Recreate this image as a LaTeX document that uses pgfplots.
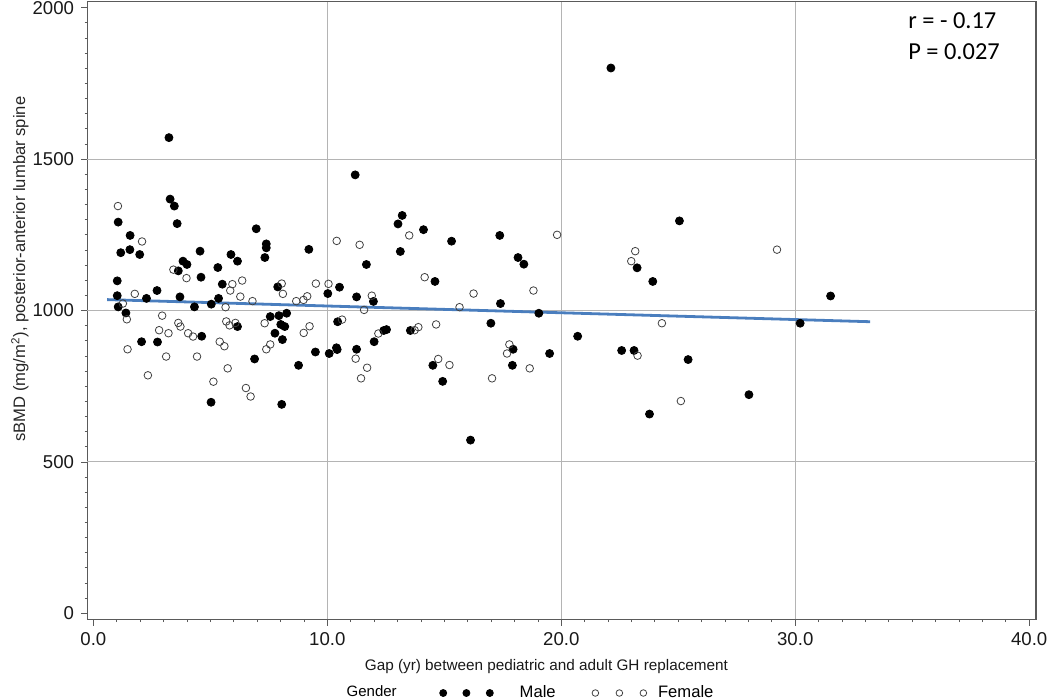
\documentclass[border=0pt]{standalone}
\usepackage{pgfplots}
\pgfplotsset{compat=1.18}
\usepackage{fontspec}
\setmainfont{Liberation Sans}
\newfontfamily\calibri{Carlito}
\definecolor{regblue}{RGB}{74,126,190}
\definecolor{gridgray}{RGB}{180,180,180}
\definecolor{axgray}{RGB}{90,90,90}

\pgfplotsset{
  maledots/.style={legend image code/.code={\draw[##1, mark size=1.75pt] plot coordinates {(0pt,0pt) (11.6pt,0pt) (23.3pt,0pt)};}},
  femaledots/.style={legend image code/.code={\draw[##1, mark size=1.65pt] plot coordinates {(0pt,0pt) (12pt,0pt) (24pt,0pt)};}},
}

\pgfplotstableread{
x y
3.23 1571
3.28 1368
3.46 1345
3.58 1287
1.06 1292
1.57 1248
1.17 1191
1.56 1201
1.98 1185
6.96 1270
7.39 1220
7.39 1207
7.33 1175
4.56 1196
5.88 1185
6.16 1163
3.83 1163
4.00 1152
3.63 1131
5.32 1142
4.60 1110
9.21 1202
1.02 1098
5.51 1087
7.88 1078
2.72 1066
1.02 1049
2.27 1040
3.70 1045
5.35 1040
1.06 1012
4.32 1012
5.04 1021
1.39 992
7.56 980
7.93 983
8.26 991
8.01 954
8.18 947
6.16 947
7.76 925
4.63 915
8.08 904
2.06 897
2.74 896
9.49 863
6.89 840
8.77 819
5.03 697
8.05 690
11.19 1448
13.20 1314
13.02 1286
14.11 1267
15.31 1229
17.37 1248
13.12 1195
11.67 1152
18.15 1175
18.40 1153
14.60 1096
10.52 1077
10.02 1056
11.25 1045
11.97 1030
17.40 1023
19.04 991
10.44 963
16.99 958
12.41 934
12.53 937
13.55 934
12.00 897
10.08 858
10.39 877
10.42 871
11.25 872
17.94 872
19.50 858
14.51 819
17.91 819
14.93 766
16.12 572
20.70 915
25.05 1296
23.24 1141
23.91 1096
31.51 1048
30.21 958
22.58 868
23.11 868
25.42 838
28.02 722
23.77 658
22.12 1801
}\male

\pgfplotstableread{
x y
1.05 1345
2.08 1228
3.42 1135
3.98 1107
6.36 1099
5.94 1087
5.85 1066
1.77 1055
6.28 1046
8.05 1089
8.10 1055
9.51 1089
6.80 1031
8.67 1031
8.98 1035
9.14 1047
1.26 1023
5.65 1011
1.43 971
2.94 983
3.63 959
3.72 947
5.68 964
5.82 951
6.07 959
7.32 958
2.81 935
3.21 925
4.05 925
4.26 914
8.99 926
9.24 948
5.40 897
5.60 882
7.56 888
7.39 872
1.46 872
3.11 848
4.43 848
5.74 809
2.33 786
5.13 765
6.52 744
6.72 716
10.40 1230
11.38 1217
13.50 1248
19.82 1250
14.16 1110
10.05 1088
11.90 1049
11.57 1002
16.25 1056
18.81 1066
15.65 1011
10.63 970
12.18 924
13.73 935
13.89 945
14.65 954
11.21 841
11.70 811
11.44 776
14.74 840
15.22 820
17.78 888
17.68 858
17.04 776
18.65 809
23.16 1196
22.99 1163
29.22 1201
24.30 958
23.26 851
25.11 701
}\female

\begin{document}
\begin{tikzpicture}
\begin{axis}[
  name=ax,
  scale only axis,
  width=474.35pt, height=308.9pt,
  xmin=-0.26, xmax=40.29,
  ymin=-20.5, ymax=2020,
  xtick={0,10,20,30,40},
  ytick={0,500,1000,1500,2000},
  minor x tick num=9,
  minor y tick num=9,
  tick align=outside,
  tick pos=left,
  major tick length=3.1pt,
  minor tick length=1.3pt,
  every tick/.style={axgray, line width=0.4pt},
  axis line style={axgray, line width=0.6pt},
  extra x ticks={10,20,30},
  extra y ticks={500,1000,1500},
  extra x tick labels={,,},
  extra y tick labels={,,},
  extra tick style={grid=major, major tick length=0pt},
  major grid style={gridgray, line width=0.55pt},
  /pgf/number format/assume math mode=true,
  xticklabel style={/pgf/number format/.cd, fixed, fixed zerofill, precision=1},
  yticklabel style={/pgf/number format/.cd, fixed, precision=0, 1000 sep={}},
  ticklabel style={font=\fontsize{9.3}{11}\selectfont, text=black!90},
  xlabel={Gap (yr) between pediatric and adult GH replacement},
  ylabel={sBMD (mg/m\textsuperscript{2}), posterior-anterior lumbar spine},
  every axis x label/.style={at={(axis description cs:0.484,-0.0764)}, anchor=center, font=\fontsize{7.65}{9}\selectfont, text=black!90},
  every axis y label/.style={at={(axis description cs:-0.071,0.567)}, anchor=center, rotate=90, font=\fontsize{8.3}{10}\selectfont, text=black!85},
  legend columns=-1,
  legend style={draw=none, fill=none, inner sep=0pt, outer sep=0pt,
    at={(axis description cs:0.2734,-0.119)}, anchor=west,
    nodes={inner sep=0pt, outer sep=0pt},
    /tikz/column 2/.style={column sep=21.5pt},
    /tikz/column 3/.style={column sep=13.2pt},
    /tikz/column 4/.style={column sep=18.2pt},
    /tikz/column 5/.style={column sep=5.7pt}},
  clip=false,
]
\addlegendimage{empty legend}
\addlegendentry{\fontsize{7.5}{9}\selectfont Gender}

\addplot[only marks, mark=*, mark size=2pt, black, maledots]
  table[x=x,y=y] {\male};
\addlegendentry{\fontsize{8.3}{10}\selectfont Male}

\addplot[only marks, mark=o, mark size=1.9pt, draw=black!75, line width=0.4pt, femaledots]
  table[x=x,y=y] {\female};
\addlegendentry{\fontsize{8.3}{10}\selectfont Female}

\addplot[regblue, line width=1.4pt, forget plot] coordinates {(0.59,1036) (33.2,963)};

\node[anchor=west, inner sep=0pt, font=\calibri\fontsize{12.2}{14}\selectfont] at (axis description cs:0.865,0.970) {r = - 0.17};
\node[anchor=west, inner sep=0pt, font=\calibri\fontsize{12.2}{14}\selectfont] at (axis description cs:0.865,0.9186) {P = 0.027};
\end{axis}
\pgfresetboundingbox
\useasboundingbox ([shift={(-43.65pt,-40.25pt)}]ax.south west) rectangle ([shift={(7pt,0.85pt)}]ax.north east);
\end{tikzpicture}
\end{document}
